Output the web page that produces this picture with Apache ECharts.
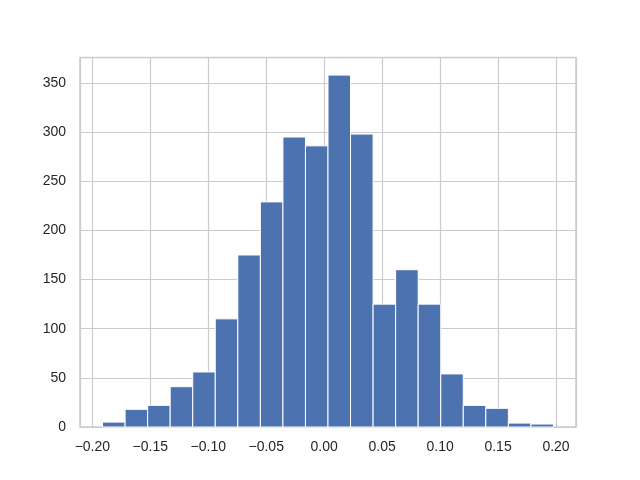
<!DOCTYPE html>
<html>
<head>
<meta charset="utf-8">
<script src="https://cdn.jsdelivr.net/npm/echarts@6/dist/echarts.min.js"></script>
<style>html,body{margin:0;padding:0;background:#fff;}#c{width:640px;height:480px;}</style>
</head>
<body>
<div id="c"></div>
<script>
// Histogram data
var binStart = -0.1912;
var binEnd = 0.1978;
var counts = [5, 18, 22, 41, 56, 110, 175, 229, 295, 286, 358, 298, 125, 160, 125, 54, 22, 19, 4, 3];
var xTickLabels = ['−0.20', '−0.15', '−0.10', '−0.05', '0.00', '0.05', '0.10', '0.15', '0.20'];
var yTickLabels = ['0', '50', '100', '150', '200', '250', '300', '350'];

var nBins = counts.length;
var binW = (binEnd - binStart) / nBins;
var span = binEnd - binStart;
var xMin = binStart - 0.05 * span;
var xMax = binEnd + 0.05 * span;
var yMax = Math.max.apply(null, counts) * 1.05;

var data = counts.map(function (c, i) {
  return [binStart + i * binW, binStart + (i + 1) * binW, c];
});

var font = '"Liberation Sans", Arial, sans-serif';
var chart = echarts.init(document.getElementById('c'), null, {renderer: 'canvas'});
chart.setOption({
  animation: false,
  backgroundColor: '#ffffff',
  grid: {left: 80, right: 64, top: 57.5, bottom: 53, show: true, borderColor: '#cccccc', borderWidth: 1.5, backgroundColor: 'transparent'},
  xAxis: {
    type: 'value', min: xMin, max: xMax, splitNumber: 8,
    axisLine: {show: false}, axisTick: {show: false},
    splitLine: {show: true, lineStyle: {color: '#cccccc', width: 1.2}},
    axisLabel: {
      showMinLabel: false, showMaxLabel: false, margin: 13,
      color: '#262626', fontSize: 14, fontFamily: font,
      formatter: function (v) {
        var k = Math.round(v / 0.05) + 4;
        return xTickLabels[k] || '';
      }
    }
  },
  yAxis: {
    type: 'value', min: 0, max: yMax, interval: 50,
    axisLine: {show: false}, axisTick: {show: false},
    splitLine: {show: true, lineStyle: {color: '#cccccc', width: 1.2}},
    axisLabel: {
      showMaxLabel: false, margin: 14,
      color: '#262626', fontSize: 14, fontFamily: font,
      formatter: function (v) {
        var k = Math.round(v / 50);
        return yTickLabels[k] || '';
      }
    }
  },
  series: [{
    type: 'custom',
    data: data,
    encode: {x: [0, 1], y: 2},
    renderItem: function (params, api) {
      var p0 = api.coord([api.value(0), api.value(2)]);
      var p1 = api.coord([api.value(1), 0]);
      return {
        type: 'rect',
        shape: {x: p0[0], y: p0[1], width: p1[0] - p0[0], height: p1[1] - p0[1]},
        style: {fill: '#4c72b0', stroke: '#ffffff', lineWidth: 1}
      };
    }
  }]
});
</script>
</body>
</html>
